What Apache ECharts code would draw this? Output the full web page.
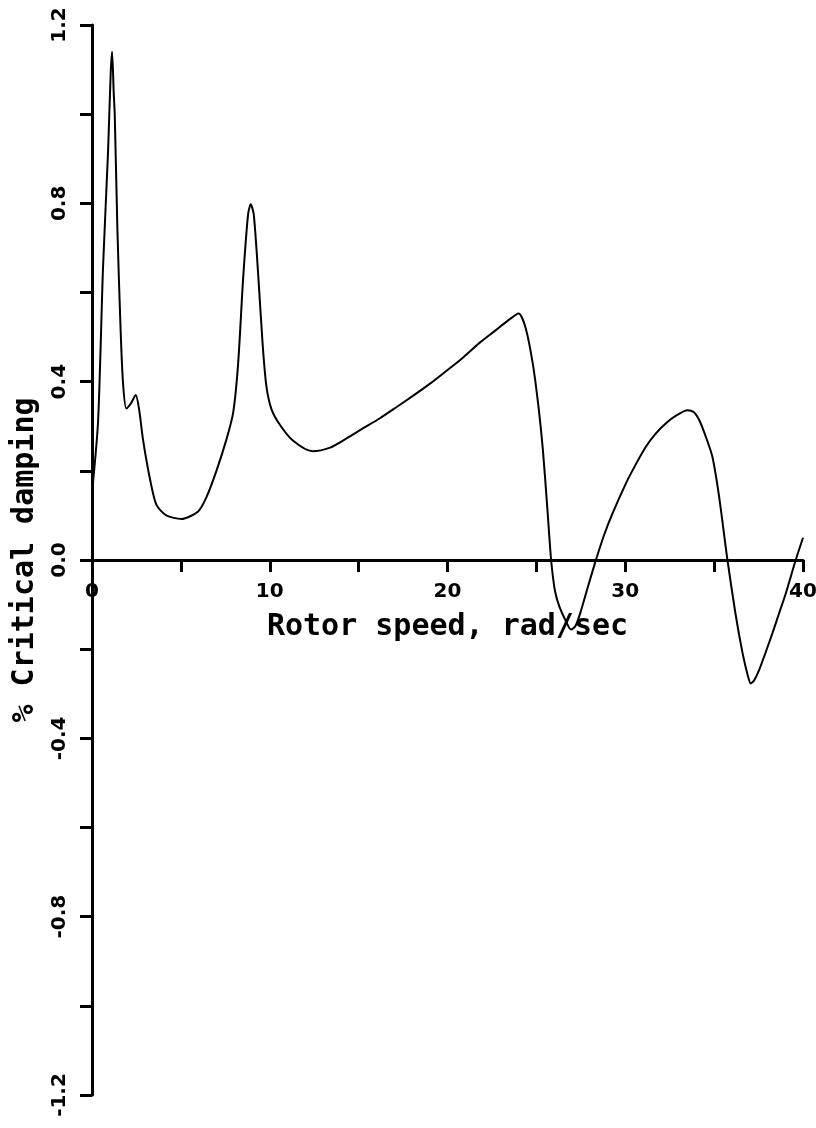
<!DOCTYPE html>
<html>
<head>
<meta charset="utf-8">
<script src="https://cdn.jsdelivr.net/npm/echarts@6/dist/echarts.min.js"></script>
<style>
  html, body { margin: 0; padding: 0; background: #fff; }
  #chart { width: 816px; height: 1128px; }
</style>
</head>
<body>
<div id="chart"></div>
<script>
// Rotor speed (rad/sec)
const speed = [0, 0.34, 0.62, 0.9, 1.05, 1.13, 1.22, 1.28, 1.43, 1.6, 1.74, 1.93, 2.2, 2.46, 2.65, 2.87, 3.25, 3.62, 4.18, 5.03,
  5.97, 6.44, 7.0, 7.56, 7.94, 8.22, 8.5, 8.78, 8.93, 9.1, 9.35, 9.6, 9.81, 10.1, 10.56, 11.3, 12.4, 13.4, 14.3, 15.2,
  16.2, 17.1, 18.05, 19.0, 19.9, 20.9, 21.8, 22.7, 23.4, 24.0, 24.4, 24.8, 25.1, 25.36, 25.6, 25.83, 26.05, 26.3, 26.67, 26.95,
  27.2, 27.5, 27.9, 28.35, 28.8, 29.29, 30.04, 30.6, 31.16, 31.7, 32.29, 32.9, 33.5, 33.85, 34.16, 34.5, 34.9, 35.28, 35.75, 36.2,
  36.6, 36.9, 37.06, 37.25, 37.53, 37.9, 38.28, 38.65, 39.03, 39.59, 40];
// % critical damping
const damping = [0.15, 0.31, 0.656, 0.913, 1.09, 1.14, 1.05, 0.998, 0.74, 0.527, 0.40, 0.34, 0.352, 0.37, 0.338, 0.27, 0.184, 0.124, 0.10, 0.092,
  0.109, 0.141, 0.2, 0.27, 0.33, 0.44, 0.63, 0.775, 0.798, 0.775, 0.64, 0.484, 0.39, 0.338, 0.304, 0.268, 0.244, 0.252, 0.272, 0.294,
  0.318, 0.342, 0.368, 0.395, 0.423, 0.455, 0.487, 0.515, 0.537, 0.553, 0.52, 0.44, 0.35, 0.25, 0.125, 0, -0.07, -0.105, -0.138, -0.156,
  -0.148, -0.115, -0.06, 0, 0.055, 0.105, 0.172, 0.215, 0.254, 0.283, 0.307, 0.325, 0.336, 0.332, 0.314, 0.28, 0.232, 0.142, 0, -0.12,
  -0.209, -0.26, -0.277, -0.27, -0.247, -0.207, -0.164, -0.12, -0.075, 0, 0.05];
const xLabelValues = [0, 10, 20, 30, 40];
const yLabelValues = [1.2, 0.8, 0.4, 0.0, -0.4, -0.8, -1.2];
const xTitle = 'Rotor speed, rad/sec';
const yTitle = '% Critical damping';

const points = speed.map((s, i) => [s, damping[i]]);
const chart = echarts.init(document.getElementById('chart'), null, { renderer: 'canvas' });
const tickFont = { fontFamily: 'DejaVu Sans', fontWeight: 'bold', fontSize: 20, color: '#000' };
const nameFont = { fontFamily: 'DejaVu Sans Mono', fontWeight: 'bold', fontSize: 30, color: '#000' };

const gridTop = 25, gridBottom = 33, chartH = 1128;
const plotH = chartH - gridTop - gridBottom;

chart.setOption({
  animation: false,
  backgroundColor: '#fff',
  grid: { left: 92, right: 13, top: gridTop, bottom: gridBottom, containLabel: false, outerBoundsMode: 'none' },
  xAxis: {
    type: 'value', min: 0, max: 40, interval: 5, z: 3,
    position: 'bottom', offset: -plotH / 2,
    name: xTitle, nameLocation: 'middle', nameGap: 50,
    nameTextStyle: Object.assign({}, nameFont, { backgroundColor: '#fff', padding: [2, 2, 2, 2] }),
    axisLine: { onZero: false, lineStyle: { color: '#000', width: 3 } },
    axisTick: { show: true, inside: false, length: 12, lineStyle: { color: '#000', width: 3 } },
    axisLabel: Object.assign({}, tickFont, {
      margin: 22,
      formatter: v => xLabelValues.indexOf(v) >= 0 ? String(v) : ''
    }),
    splitLine: { show: false }
  },
  yAxis: {
    type: 'value', min: -1.2, max: 1.2, interval: 0.2,
    name: yTitle, nameLocation: 'middle', nameGap: 52, nameRotate: 90,
    nameTextStyle: nameFont,
    axisLine: { onZero: false, lineStyle: { color: '#000', width: 3 } },
    axisTick: { show: true, inside: false, length: 12, lineStyle: { color: '#000', width: 3 } },
    axisLabel: Object.assign({}, tickFont, {
      rotate: 90, margin: 22,
      formatter: v => {
        const r = Math.round(v * 10) / 10;
        return yLabelValues.some(t => Math.abs(t - r) < 1e-6) ? r.toFixed(1) : '';
      }
    }),
    splitLine: { show: false }
  },
  series: [{
    type: 'line',
    data: points,
    smooth: 0.25,
    showSymbol: false,
    symbol: 'none',
    lineStyle: { color: '#000', width: 2 },
    clip: true
  }]
});
</script>
</body>
</html>
